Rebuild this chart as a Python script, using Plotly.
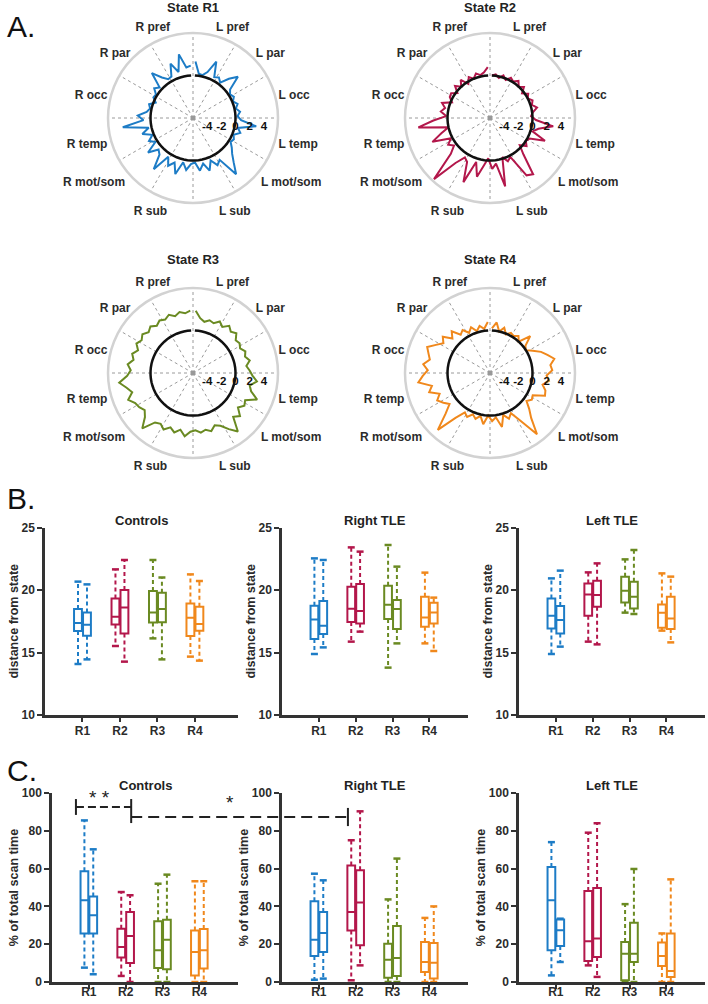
import plotly.graph_objects as go

W, H = 708, 1004
FONT = "Liberation Sans"
TXT = "#2b2b2b"

# ---------------- data: panel A (polar state profiles) ----------------
REGION_LABELS = ["L pref", "L par", "L occ", "L temp", "L mot/som", "L sub",
                 "R sub", "R mot/som", "R temp", "R occ", "R par", "R pref"]
STATE_TITLES = ["State R1", "State R2", "State R3", "State R4"]
RADIAL_TICKS = [-4, -2, 0, 2, 4]
RADIAL_TICK_TEXT = ["-4", "-2", "0", "2", "4"]

STATE_R1 = [2.0, 0.3, 0.2, 0.8, 2.6, 0.5, 0.8, 0.3, 1.5, 2.6, 0.6, 0.2,
            0.5, 0.1, 0.6, 0.2, 0.7, 0.3, 0.8, 3.0, 0.5, 1.0, 0.2, 0.5,
            0.3, 0.9, 1.5, 2.5, 4.0, 1.0, 1.5, 0.5, 1.8, 0.6, 1.5, 0.3,
            0.5, 1.4, 0.4, 2.3, 0.8, 1.6, 0.5, 3.1, 1.0, 0.6, 2.0, 0.3,
            1.0, 0.2, 1.5, 0.4, 4.0, 1.0, 1.8, 0.6, 0.2, 0.5, -0.3, 0.3,
            0.2, 0.9, 0.4, 2.6, 1.2, 0.5, 0.6, 2.3, 0.8, 3.2, 1.2, 1.4]
STATE_R2 = [0.0, 0.2, -0.2, 0.3, -0.2, 0.4, 0.1, 0.6, 0.0, 0.5, -0.3, 0.4,
            0.0, 0.5, 0.2, 0.8, 0.1, -0.2, 0.5, 3.0, 1.0, 0.3, 2.4, 0.3,
            0.0, 0.5, -0.3, 1.0, 4.0, 3.6, 0.2, 0.6, -0.2, 3.9, 0.5, 1.2,
            -0.3, 0.8, 2.5, 0.5, 3.8, 1.0, 0.6, 2.0, 5.7, 1.5, 0.4, 1.0,
            0.2, 2.8, 1.2, 0.0, 4.2, 2.0, 0.2, 1.0, 0.5, 1.1, -0.2, 0.4,
            0.5, -0.2, 0.7, 0.0, 0.8, -0.3, 0.5, 0.0, 0.6, 0.2, 0.5, 1.2]
STATE_R3 = [2.8, 1.8, 1.4, 1.8, 1.6, 2.2, 1.7, 2.4, 1.9, 2.3, 1.6, 1.8,
            1.5, 2.0, 1.7, 2.2, 1.6, 2.0, 2.4, 3.1, 2.2, 2.6, 3.8, 2.3,
            2.6, 2.0, 3.0, 2.4, 4.4, 3.4, 2.4, 2.0, 2.6, 2.2, 2.5, 2.1,
            2.3, 3.0, 2.2, 2.8, 2.3, 3.0, 2.5, 2.8, 4.6, 3.2, 2.6, 3.0,
            3.2, 3.9, 3.0, 3.6, 4.5, 3.3, 2.8, 3.3, 2.6, 3.0, 2.4, 3.0,
            2.6, 3.0, 2.5, 2.9, 2.4, 2.8, 2.5, 2.9, 2.4, 2.8, 2.5, 2.8]
STATE_R4 = [0.3, 1.2, 0.0, 0.7, -0.1, 0.4, 0.2, 0.6, 0.0, 1.7, 0.3, 0.0,
            0.8, 1.8, 2.5, 3.3, 2.6, 2.8, 2.0, 2.4, 1.6, 2.2, 2.4, 0.8,
            1.0, 0.5, 1.5, 2.6, 4.9, 2.0, 0.4, 1.0, 0.2, 1.8, 0.3, 0.8,
            0.0, 1.3, 0.2, 0.8, 0.3, 1.0, 0.6, 2.0, 4.9, 2.5, 1.2, 1.8,
            2.4, 1.7, 3.0, 2.4, 4.2, 3.5, 2.8, 3.5, 2.7, 3.1, 3.6, 2.6,
            1.8, 2.4, 1.2, 2.0, 0.8, 1.2, 0.4, 1.0, 0.2, 0.8, 0.3, 1.2]
STATES = [STATE_R1, STATE_R2, STATE_R3, STATE_R4]
N_REG = len(STATE_R1)
ZERO_REF = [0.0] * N_REG

COLORS = ["#1d7cc6", "#b3174b", "#6a8a22", "#f0881c"]

# ---------------- data: panels B and C (box summaries) ----------------
CATS = ["R1", "R2", "R3", "R4"]
GROUP_TITLES = ["Controls", "Right TLE", "Left TLE"]
# order: R1a, R1b, R2a, R2b, R3a, R3b, R4a, R4b
B_CTRL_HI = [20.67, 20.45, 21.65, 22.4, 22.4, 21.0, 21.25, 20.72]
B_CTRL_Q3 = [18.48, 18.21, 19.33, 20.0, 19.92, 19.79, 18.93, 18.67]
B_CTRL_MED = [17.36, 17.23, 17.87, 18.61, 18.21, 18.48, 17.79, 17.28]
B_CTRL_Q1 = [16.72, 16.35, 17.25, 16.53, 17.41, 17.42, 16.32, 16.75]
B_CTRL_LO = [14.08, 14.45, 15.52, 14.27, 16.13, 14.45, 14.67, 14.35]

B_RTLE_HI = [22.53, 22.4, 23.41, 23.07, 23.6, 21.87, 21.39, 19.39]
B_RTLE_Q3 = [18.75, 19.12, 20.27, 20.48, 20.35, 19.2, 19.47, 18.99]
B_RTLE_MED = [17.65, 17.15, 18.51, 18.32, 18.83, 18.48, 17.81, 18.21]
B_RTLE_Q1 = [16.08, 16.48, 17.44, 17.33, 17.68, 16.88, 17.07, 17.33]
B_RTLE_LO = [14.88, 15.41, 15.87, 16.67, 13.79, 15.73, 15.73, 15.12]

B_LTLE_HI = [20.93, 21.55, 21.41, 22.13, 22.45, 23.2, 21.33, 21.07]
B_LTLE_Q3 = [19.33, 18.72, 20.53, 20.75, 21.07, 20.67, 18.85, 19.47]
B_LTLE_MED = [17.95, 17.6, 19.65, 19.6, 19.95, 19.47, 18.19, 17.73]
B_LTLE_Q1 = [16.93, 16.53, 17.95, 18.67, 19.01, 18.53, 16.99, 16.88]
B_LTLE_LO = [14.88, 15.47, 15.87, 15.65, 18.19, 18.08, 16.75, 15.81]

C_CTRL_HI = [85.5, 70.2, 47.6, 45.9, 52.0, 56.8, 53.3, 53.3]
C_CTRL_Q3 = [58.6, 45.3, 28.2, 37.0, 32.1, 33.0, 27.2, 28.0]
C_CTRL_MED = [43.2, 35.3, 18.5, 24.3, 16.8, 22.4, 15.9, 16.8]
C_CTRL_Q1 = [25.6, 25.6, 12.9, 10.1, 7.4, 6.7, 3.5, 7.2]
C_CTRL_LO = [7.6, 4.1, 3.2, 0.0, 0.0, 0.0, 0.0, 0.0]

C_RTLE_HI = [57.3, 53.8, 75.0, 90.3, 43.7, 65.3, 33.9, 40.0]
C_RTLE_Q3 = [42.7, 37.0, 61.6, 59.1, 20.3, 29.6, 21.2, 20.6]
C_RTLE_MED = [22.4, 25.9, 37.0, 42.0, 11.8, 12.7, 10.6, 10.2]
C_RTLE_Q1 = [13.8, 15.9, 27.3, 19.4, 2.3, 3.2, 5.3, 1.8]
C_RTLE_LO = [1.2, 1.8, 0.9, 8.8, 0.0, 0.0, 0.0, 0.0]

C_LTLE_HI = [74.0, 33.5, 79.0, 84.0, 41.2, 59.8, 25.7, 54.3]
C_LTLE_Q3 = [60.9, 33.1, 48.2, 49.8, 21.2, 31.3, 20.9, 25.7]
C_LTLE_MED = [43.3, 27.4, 21.6, 23.0, 15.0, 15.0, 13.8, 5.8]
C_LTLE_Q1 = [16.8, 19.1, 11.1, 13.2, 0.9, 10.6, 8.5, 2.7]
C_LTLE_LO = [3.5, 10.6, 8.8, 2.7, 0.0, 0.0, 0.0, 0.0]

B_TICKS = [10, 15, 20, 25]
C_TICKS = [0, 20, 40, 60, 80, 100]

# significance marks (x in category units of the given panel, y in % units)
SIG_BRACKET_X = [0.65, 2.15]      # Controls R1 .. R2
SIG_BRACKET_Y = 92.6
SIG_LONG_X = [2.15, 1.79]         # Controls R2 -> Right TLE R2
SIG_LONG_Y = 87.3
SIG_STARS_X = [1.3, 4.84]         # Controls units
SIG_STARS_Y = [97.6, 95.0]

# ---------------- helpers ----------------
def px2x(px):
    return px / W


def px2y(py):
    return 1 - py / H


def bold(size, color=TXT):
    return dict(family=FONT, size=size, color=color, weight="bold")


fig = go.Figure()

# ---------------- panel A: polar plots ----------------
POLAR_CENTERS = [(193, 118), (490, 118), (193, 373), (490, 373)]
R_PX = 85
SPOKES = list(range(0, 360, 30))
LABEL_ANGLES = [15, 45, 75, 105, 130, 163, 197, 230, 255, 285, 315, 345]
theta = [(i + 0.5) * 360.0 / N_REG for i in range(N_REG)]

for k in range(4):
    pid = "polar" if k == 0 else f"polar{k+1}"
    cx, cy = POLAR_CENTERS[k]
    sr, st = [], []
    for t in SPOKES:
        sr += [-6, 6, None]
        st += [t, t, None]
    fig.add_trace(go.Scatterpolar(r=sr, theta=st, mode="lines", subplot=pid,
                                  line=dict(color="#9a9a9a", width=1, dash="3px,3px"),
                                  hoverinfo="skip"))
    fig.add_trace(go.Scatterpolar(r=[-6], theta=[0], mode="markers", subplot=pid,
                                  marker=dict(symbol="square", size=4, color="#999999"),
                                  hoverinfo="skip"))
    fig.add_trace(go.Scatterpolar(r=STATES[k], theta=theta, mode="lines", subplot=pid,
                                  line=dict(color=COLORS[k], width=2)))
    fig.add_trace(go.Scatterpolar(r=ZERO_REF, theta=theta, mode="lines", subplot=pid,
                                  line=dict(color="#111111", width=2.5)))
    fig.layout[pid] = dict(
        domain=dict(x=[px2x(cx - R_PX), px2x(cx + R_PX)],
                    y=[px2y(cy + R_PX), px2y(cy - R_PX)]),
        bgcolor="rgba(0,0,0,0)",
        angularaxis=dict(rotation=90, direction="clockwise",
                         tickmode="array", tickvals=LABEL_ANGLES,
                         ticktext=REGION_LABELS, showgrid=False,
                         showline=True, linecolor="#d2d2d2", linewidth=2.5,
                         ticks="", tickfont=bold(12)),
        radialaxis=dict(range=[-6, 6], tickmode="array", tickvals=RADIAL_TICKS,
                        ticktext=RADIAL_TICK_TEXT,
                        showline=False, showgrid=False, angle=0, tickangle=0,
                        ticks="", tickfont=bold(11.5, "#111111")),
    )
    fig.add_annotation(x=px2x(cx), y=px2y(8 if k < 2 else 259), xref="paper", yref="paper",
                       text=STATE_TITLES[k], showarrow=False, font=bold(13, "#222222"),
                       xanchor="center", yanchor="middle")

# ---------------- panels B and C: boxes ----------------
PANELS = [
    (B_CTRL_LO, B_CTRL_Q1, B_CTRL_MED, B_CTRL_Q3, B_CTRL_HI),
    (B_RTLE_LO, B_RTLE_Q1, B_RTLE_MED, B_RTLE_Q3, B_RTLE_HI),
    (B_LTLE_LO, B_LTLE_Q1, B_LTLE_MED, B_LTLE_Q3, B_LTLE_HI),
    (C_CTRL_LO, C_CTRL_Q1, C_CTRL_MED, C_CTRL_Q3, C_CTRL_HI),
    (C_RTLE_LO, C_RTLE_Q1, C_RTLE_MED, C_RTLE_Q3, C_RTLE_HI),
    (C_LTLE_LO, C_LTLE_Q1, C_LTLE_MED, C_LTLE_Q3, C_LTLE_HI),
]
X_DOMAINS_PX = [(45, 238), (282, 468), (519, 705), (52, 238), (282, 468), (519, 705)]
X_RANGES = [[0, 5.15], [0, 5.05], [0, 5.05], [0, 5.05], [0, 5.05], [0, 5.05]]
B_Y_PX = (715, 527.5)
C_Y_PX = (982, 793)
OFFSET = 0.12
BOX_W = 0.21

for p, (lo, q1, med, q3, hi) in enumerate(PANELS):
    xa = "x" if p == 0 else f"x{p+1}"
    ya = "y" if p == 0 else f"y{p+1}"
    for s in range(4):
        idx = [2 * s, 2 * s + 1]
        xs = [s + 1 - OFFSET, s + 1 + OFFSET]
        col = COLORS[s]
        fig.add_trace(go.Box(x=xs, q1=[q1[i] for i in idx], median=[med[i] for i in idx],
                             q3=[q3[i] for i in idx], lowerfence=[q1[i] for i in idx],
                             upperfence=[q3[i] for i in idx], width=BOX_W,
                             line=dict(color=col, width=2), fillcolor="rgba(255,255,255,0)",
                             whiskerwidth=0, boxpoints=False, xaxis=xa, yaxis=ya,
                             hoverinfo="skip"))
        wx, wy = [], []
        for j, i in enumerate(idx):
            wx += [xs[j], xs[j], None, xs[j], xs[j], None]
            wy += [q3[i], hi[i], None, q1[i], lo[i], None]
        fig.add_trace(go.Scatter(x=wx, y=wy, mode="lines", xaxis=xa, yaxis=ya,
                                 line=dict(color=col, width=2, dash="4px,3px"),
                                 hoverinfo="skip"))
        fig.add_trace(go.Scatter(x=xs + xs, y=[hi[i] for i in idx] + [lo[i] for i in idx],
                                 mode="markers", xaxis=xa, yaxis=ya, cliponaxis=False,
                                 marker=dict(symbol="line-ew-open", size=5, color=col,
                                             line=dict(color=col, width=2.5)),
                                 hoverinfo="skip"))

    is_b = p < 3
    ypx = B_Y_PX if is_b else C_Y_PX
    dx = X_DOMAINS_PX[p]
    layout_x = dict(domain=[px2x(dx[0]), px2x(dx[1])], range=X_RANGES[p], anchor=ya,
                    tickmode="array", tickvals=[1, 2, 3, 4], ticktext=CATS,
                    showline=True, linecolor="#333333", linewidth=2.5,
                    ticks="outside", ticklen=4, tickwidth=2, tickcolor="#333333",
                    ticklabelstandoff=-1 if is_b else -7,
                    tickfont=bold(12), showgrid=False, zeroline=False, automargin=False)
    layout_y = dict(domain=[px2y(ypx[0]), px2y(ypx[1])], anchor=xa,
                    range=[10, 25] if is_b else [0, 100],
                    tickmode="array", tickvals=B_TICKS if is_b else C_TICKS,
                    showline=True, linecolor="#333333", linewidth=2.5,
                    ticks="outside", ticklen=5, tickwidth=2, tickcolor="#333333",
                    tickfont=bold(12), showgrid=False, zeroline=False, automargin=False,
                    title=dict(text="distance from state" if is_b else "% of total scan time",
                               font=bold(12.5), standoff=1))
    fig.layout["xaxis" if p == 0 else f"xaxis{p+1}"] = layout_x
    fig.layout["yaxis" if p == 0 else f"yaxis{p+1}"] = layout_y
    fig.add_annotation(x=px2x((dx[0] + dx[1]) / 2), y=px2y(520 if is_b else 785),
                       xref="paper", yref="paper", text=GROUP_TITLES[p % 3],
                       showarrow=False, font=bold(13, "#222222"),
                       xanchor="center", yanchor="middle")

# ---------------- significance marks on panel C ----------------
def xpaper(panel, v):
    dx = X_DOMAINS_PX[panel]
    r = X_RANGES[panel]
    return px2x(dx[0] + (v - r[0]) / (r[1] - r[0]) * (dx[1] - dx[0]))


SIG_LINE = dict(color="#222222", width=2)
x_b0 = xpaper(3, SIG_BRACKET_X[0])
x_b1 = xpaper(3, SIG_BRACKET_X[1])
x_l1 = xpaper(4, SIG_LONG_X[1])
shapes = [
    dict(type="line", xref="paper", yref="y4", x0=x_b0, x1=x_b1, y0=SIG_BRACKET_Y, y1=SIG_BRACKET_Y,
         line=dict(color="#222222", width=2, dash="8px,4px")),
    dict(type="line", xref="paper", yref="y4", x0=x_b0, x1=x_b0, y0=SIG_BRACKET_Y - 4.2, y1=SIG_BRACKET_Y + 4.2,
         line=SIG_LINE),
    dict(type="line", xref="paper", yref="y4", x0=x_b1, x1=x_b1, y0=SIG_LONG_Y - 3.2, y1=SIG_BRACKET_Y + 4.2,
         line=SIG_LINE),
    dict(type="line", xref="paper", yref="y4", x0=x_b1, x1=x_l1, y0=SIG_LONG_Y, y1=SIG_LONG_Y,
         line=dict(color="#222222", width=2, dash="11px,6px")),
    dict(type="line", xref="paper", yref="y4", x0=x_l1, x1=x_l1, y0=SIG_LONG_Y - 4.8, y1=SIG_LONG_Y + 4.8,
         line=SIG_LINE),
]
for txt, sx, sy in [("* *", SIG_STARS_X[0], SIG_STARS_Y[0]), ("*", SIG_STARS_X[1], SIG_STARS_Y[1])]:
    fig.add_annotation(x=xpaper(3, sx), y=sy, xref="paper", yref="y4",
                       text=txt, showarrow=False, font=dict(family=FONT, size=19, color="#222222"),
                       xanchor="center", yanchor="middle")

# panel letters
for letter, ypx in [("A.", 27), ("B.", 498), ("C.", 770)]:
    fig.add_annotation(x=px2x(5), y=px2y(ypx), xref="paper", yref="paper", text=letter,
                       showarrow=False, font=dict(family=FONT, size=30, color="#111111"),
                       xanchor="left", yanchor="middle")

fig.update_layout(width=W, height=H, margin=dict(l=0, r=0, t=0, b=0),
                  paper_bgcolor="white", plot_bgcolor="white", showlegend=False,
                  shapes=shapes, font=dict(family=FONT, color=TXT))

fig.write_html("out.html", config={"displayModeBar": False},
               post_script="document.body.style.margin='0';document.body.style.padding='0';")
